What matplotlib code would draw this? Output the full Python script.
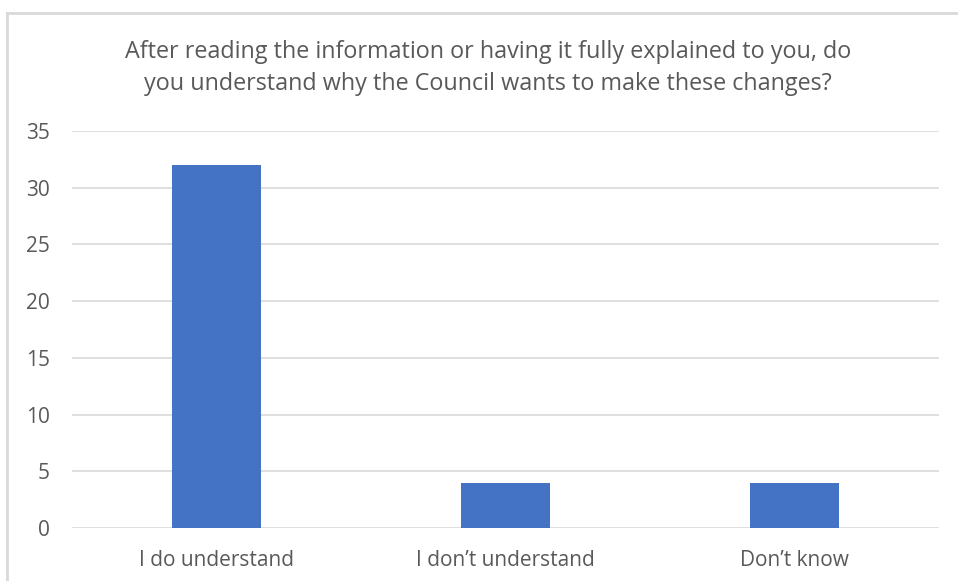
import matplotlib
matplotlib.use("Agg")
import matplotlib.pyplot as plt
from matplotlib.lines import Line2D

categories = ["I do understand", "I don\u2019t understand", "Don\u2019t know"]
counts = [32, 4, 4]
yticks = [0, 5, 10, 15, 20, 25, 30, 35]
title = ("After reading the information or having it fully explained to you, do\n"
         "you understand why the Council wants to make these changes?")

W, H = 958, 581
TXT = "#595959"

plt.rcParams['font.family'] = ['Open Sans', 'DejaVu Sans']
fig = plt.figure(figsize=(W / 100, H / 100), dpi=100)

# chart frame (cut off on right and bottom)
fig.add_artist(Line2D([7 / W, 1], [1 - 13 / H, 1 - 13 / H], color="#d9d9d9", lw=2))
fig.add_artist(Line2D([7 / W, 7 / W], [0, 1 - 13 / H], color="#d9d9d9", lw=2))

ax = fig.add_axes([72 / W, 53 / H, (939 - 72) / W, (528 - 131) / H])
ax.bar(range(len(categories)), counts, width=0.31, color="#4472C4", zorder=3)
ax.set_xlim(-0.5, len(categories) - 0.5)
ax.set_ylim(0, 35)
ax.set_yticks(yticks)
ax.set_xticks(range(len(categories)))
ax.set_xticklabels(categories)
ax.grid(axis="y", color="#d9d9d9", lw=1.2, zorder=0)
for s in ax.spines.values():
    s.set_visible(False)
ax.tick_params(length=0, labelsize=15, labelcolor=TXT)
ax.tick_params(axis="y", pad=16)
ax.tick_params(axis="x", pad=16)

fig.text(488 / W, 1 - 68 / H, title, ha="center", va="center",
         fontsize=16.8, color=TXT, linespacing=1.5)

fig.savefig("out.png", dpi=100)
